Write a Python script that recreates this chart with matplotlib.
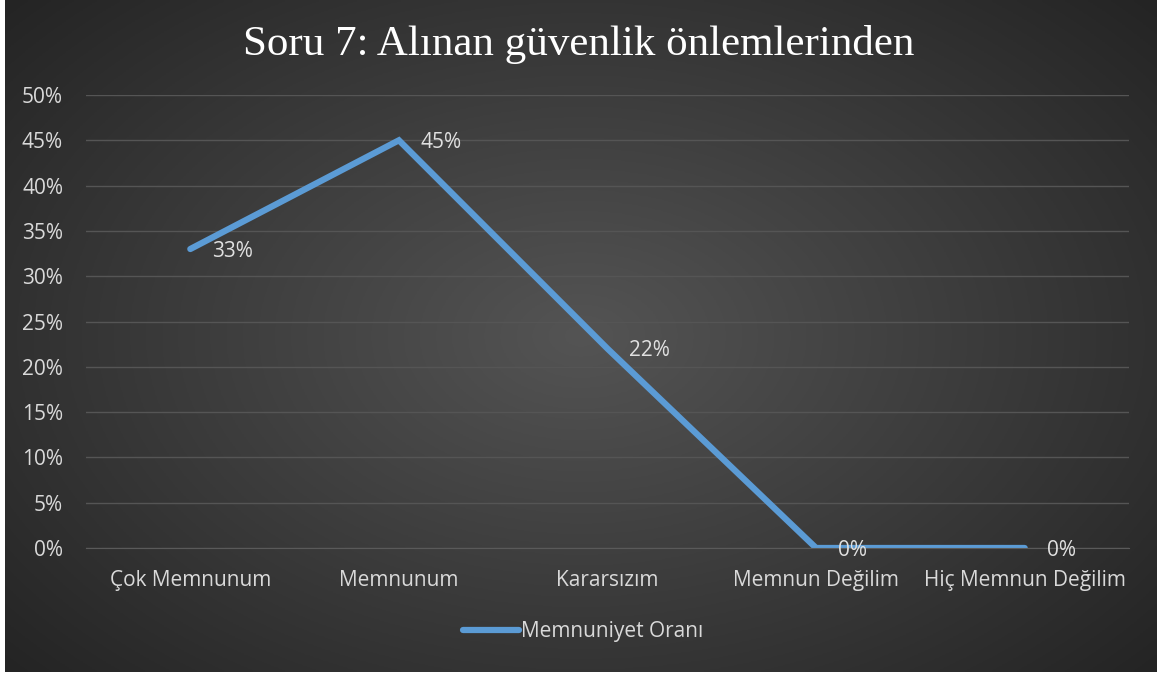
import numpy as np
import matplotlib
matplotlib.use("Agg")
import matplotlib.pyplot as plt
from matplotlib.ticker import PercentFormatter

categories = ["Çok Memnunum", "Memnunum", "Kararsızım", "Memnun Değilim", "Hiç Memnun Değilim"]
values = [33, 45, 22, 0, 0]
value_labels = ["33%", "45%", "22%", "0%", "0%"]
yticks = [0, 5, 10, 15, 20, 25, 30, 35, 40, 45, 50]
series_name = "Memnuniyet Oranı"
title = "Soru 7: Alınan güvenlik önlemlerinden"

W, H = 1157, 677
fig = plt.figure(figsize=(W / 100, H / 100), dpi=100, facecolor="white")

# background with radial gradient
bg = fig.add_axes([5 / W, 5 / H, 1152 / W, 672 / H])
bg.set_axis_off()
nx, ny = 400, 240
xx, yy = np.meshgrid(np.linspace(-1, 1, nx), np.linspace(-1, 1, ny))
r = np.sqrt(xx ** 2 + (yy * 0.9) ** 2) / np.sqrt(1 + 0.81)
r = np.clip(r, 0, 1)
inner = np.array([0x54, 0x54, 0x54]) / 255
outer = np.array([0x24, 0x24, 0x24]) / 255
img = inner[None, None, :] * (1 - r[..., None]) + outer[None, None, :] * r[..., None]
bg.imshow(img, extent=[0, 1, 0, 1], aspect="auto", origin="lower")
bg.set_xlim(0, 1)
bg.set_ylim(0, 1)

# plot axes
left, right = 86, 1129
top, bottom = 95, 548
ax = fig.add_axes([left / W, (H - bottom) / H, (right - left) / W, (bottom - top) / H])
ax.patch.set_alpha(0)
x = np.arange(len(categories))
ax.set_xlim(-0.5, len(categories) - 0.5)
ax.set_ylim(0, 50)
ax.set_yticks(yticks)
ax.yaxis.set_major_formatter(PercentFormatter(decimals=0))
ax.grid(axis="y", color="#555555", linewidth=1)
ax.set_axisbelow(True)
for s in ax.spines.values():
    s.set_visible(False)
ax.spines["bottom"].set_visible(True)
ax.spines["bottom"].set_color("#5a5a5a")
ax.tick_params(axis="both", length=0, colors="#d9d9d9", labelsize=15)
ax.tick_params(axis="y", pad=16.5)
ax.tick_params(axis="x", pad=16)
ax.set_xticks(x)
ax.set_xticklabels(categories)
for lab in ax.get_xticklabels() + ax.get_yticklabels():
    lab.set_fontfamily("Open Sans")

line, = ax.plot(x, values, color="#5b9bd5", linewidth=4.5, solid_capstyle="round",
                solid_joinstyle="miter", label=series_name)
for xi, v, t in zip(x, values, value_labels):
    ax.annotate(t, (xi, v), xytext=(22, -2), textcoords="offset pixels",
                ha="left", va="center", color="#e0e0e0", fontsize=15, fontfamily="Open Sans")

fig.text(579 / W, 1 - 44 / H, title, ha="center", va="center", color="white",
         fontsize=31, fontfamily="Liberation Serif")

leg = fig.legend(handles=[line], loc="center", bbox_to_anchor=(583 / W, 1 - 632 / H),
                 frameon=False, prop={"family": "Open Sans", "size": 15},
                 handlelength=2.7, handletextpad=0.1)
for t in leg.get_texts():
    t.set_color("#d9d9d9")

fig.savefig("out.png", dpi=100, facecolor=fig.get_facecolor())
